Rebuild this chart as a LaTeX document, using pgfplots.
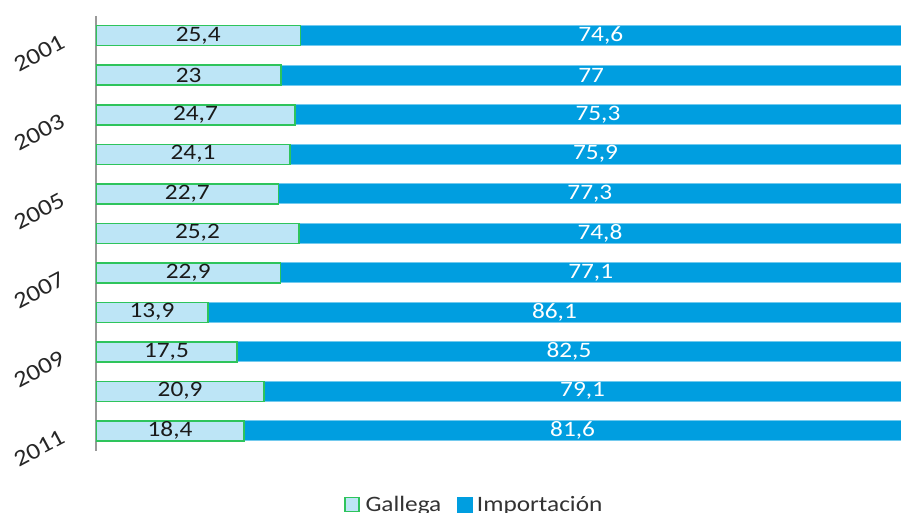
\documentclass[border=0pt]{standalone}
\usepackage{fontspec}
\setmainfont{Carlito}[FakeStretch=1.15]
\usepackage{pgfplots}
\usepackage{pgfplotstable}
\pgfplotsset{compat=1.18}
\definecolor{galfill}{HTML}{BDE5F6}
\definecolor{galedge}{HTML}{2EC45C}
\definecolor{impfill}{HTML}{009EE0}
\definecolor{txt}{HTML}{1A1A1A}
\pgfplotstableread{
idx year g i gl il
0 2001 25.4 74.6 25,4 74,6
1 2002 23.0 77.0 23 77
2 2003 24.7 75.3 24,7 75,3
3 2004 24.1 75.9 24,1 75,9
4 2005 22.7 77.3 22,7 77,3
5 2006 25.2 74.8 25,2 74,8
6 2007 22.9 77.1 22,9 77,1
7 2008 13.9 86.1 13,9 86,1
8 2009 17.5 82.5 17,5 82,5
9 2010 20.9 79.1 20,9 79,1
10 2011 18.4 81.6 18,4 81,6
}\datatable
\begin{document}
\begin{tikzpicture}
\path[use as bounding box] (-96pt,-62.5pt) rectangle (805pt,450.5pt);
\begin{axis}[
  at={(0pt,0pt)}, anchor=south west,
  scale only axis, width=805pt, height=434.5pt,
  xmin=0, xmax=100, ymin=-0.5, ymax=10.5,
  y dir=reverse,
  xbar stacked, bar width=20pt,
  axis x line=none, axis y line*=left,
  y axis line style={draw=black!40, line width=1.4pt},
  ytick={0,2,4,6,8,10},
  yticklabels={2001,2003,2005,2007,2009,2011},
  major tick length=0pt,
  yticklabel style={inner sep=0pt, xshift=-33pt, yshift=-5pt, rotate=28, anchor=east,
    font=\fontsize{23}{25}\selectfont, text=black!85},
  legend style={at={(0.47,-0.124)}, anchor=center, draw=none, fill=none,
    font=\fontsize{22}{24}\selectfont, text=black!80, legend columns=-1,
    /tikz/every even column/.append style={column sep=14pt}},
]
\addplot[fill=galfill, draw=galedge, line width=1.5pt,
  legend image code/.code={\draw[fill=galfill, draw=galedge, line width=1.2pt] (0pt,-7pt) rectangle (14pt,7pt);}]
  table[x=g, y=idx]{\datatable};
\addplot[fill=impfill, draw=impfill!55!white, line width=0.6pt,
  legend image code/.code={\fill[impfill] (0pt,-7.5pt) rectangle (15pt,7.5pt);}]
  table[x=i, y=idx]{\datatable};
\legend{\hspace{4pt}Gallega, \hspace{2pt}Importación}
\end{axis}
\begin{axis}[
  at={(0pt,0pt)}, anchor=south west,
  scale only axis, width=805pt, height=434.5pt,
  xmin=0, xmax=100, ymin=-0.5, ymax=10.5,
  y dir=reverse, hide axis, clip=false,
]
\addplot[only marks, mark=none, nodes near coords, point meta=explicit symbolic,
  every node near coord/.append style={anchor=center, inner sep=0pt,
    font=\fontsize{22}{24}\selectfont, text=txt}]
  table[x expr=\thisrow{g}/2, y=idx, meta=gl]{\datatable};
\addplot[only marks, mark=none, nodes near coords, point meta=explicit symbolic,
  every node near coord/.append style={anchor=center, inner sep=0pt,
    font=\fontsize{22}{24}\selectfont, text=white}]
  table[x expr=\thisrow{g}+\thisrow{i}/2, y=idx, meta=il]{\datatable};
\end{axis}
\end{tikzpicture}
\end{document}
